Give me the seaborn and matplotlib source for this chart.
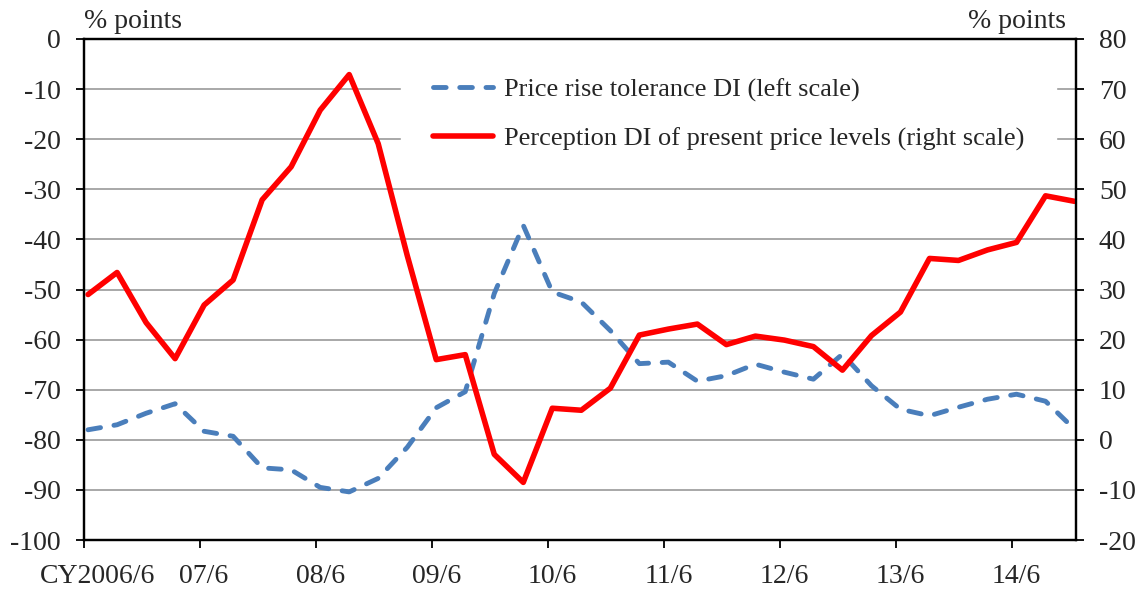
import pandas as pd
import seaborn as sns
import matplotlib.pyplot as plt
from matplotlib.transforms import ScaledTranslation

# Quarterly survey, CY2006/6 .. 2014/12
tick_labels = ["CY2006/6", "07/6", "08/6", "09/6", "10/6", "11/6", "12/6", "13/6", "14/6"]

# Price rise tolerance DI (left scale)
tolerance = [-78.0, -77.0, -74.7, -72.8, -78.3, -79.3, -85.6, -86.0, -89.5, -90.4,
             -87.7, -81.5, -73.6, -70.4, -50.8, -37.2, -50.5, -52.5, -58.2, -64.8,
             -64.5, -68.3, -67.2, -64.9, -66.5, -67.9, -62.9, -69.2, -73.9, -75.2,
             -73.5, -71.9, -70.9, -72.3, -77.9]

# Perception DI of present price levels (right scale)
perception = [29.0, 33.4, 23.4, 16.2, 26.9, 31.9, 47.9, 54.5, 65.8, 72.9,
              59.1, 36.8, 16.0, 17.0, -2.9, -8.5, 6.3, 5.9, 10.3, 20.9,
              22.1, 23.1, 19.0, 20.7, 19.9, 18.6, 13.9, 20.8, 25.5, 36.2,
              35.8, 37.9, 39.4, 48.7, 47.6]

df = pd.DataFrame({
    "q": range(len(tolerance)),
    "tolerance": tolerance,
    "perception": perception,
})

sns.set_style("white")
plt.rcParams["font.family"] = ["Liberation Serif", "DejaVu Serif"]
plt.rcParams["axes.unicode_minus"] = False
plt.rcParams["font.size"] = 20

fig = plt.figure(figsize=(11.39, 5.91), dpi=100)
ax = fig.add_axes([84 / 1139, 1 - 540 / 591, (1076 - 84) / 1139, (540 - 39) / 591])
ax2 = ax.twinx()

sns.lineplot(data=df, x="q", y="tolerance", ax=ax, color="#4a7ebb", lw=3.5,
             linestyle=(0, (2.6, 2.8)), dash_capstyle="round",
             label="Price rise tolerance DI (left scale)", legend=False)
sns.lineplot(data=df, x="q", y="perception", ax=ax2, color="#ff0000", lw=4,
             label="Perception DI of present price levels (right scale)", legend=False)

off = -0.14
ax.set_xlim(off, 34.05)
ax.set_ylim(-100, 0)
ax2.set_ylim(-20, 80)
ax.set_yticks(range(-100, 1, 10))
ax2.set_yticks(range(-20, 81, 10))
# tick marks at the start of June, labels centred on the June points
ax.set_xticks([off + 4 * k for k in range(len(tick_labels))])
ax.set_xticklabels([])
ax.set_xticks([4 * k for k in range(len(tick_labels))], minor=True)
ax.set_xticklabels(tick_labels, minor=True)

ax.yaxis.grid(True, color="#999999", lw=1.2)
ax.set_axisbelow(True)
ax.set_xlabel("")
ax.set_ylabel("")
ax2.set_ylabel("")

for a in (ax, ax2):
    for s in a.spines.values():
        s.set_color("black")
        s.set_linewidth(1.6)
ax.tick_params(axis="both", direction="out", length=5.5, width=1.3, color="black",
               labelsize=20, left=True, bottom=True)
ax.tick_params(axis="y", pad=11)
ax.tick_params(axis="x", which="minor", length=0, pad=17, labelsize=20, bottom=True)
ax2.tick_params(axis="y", direction="out", length=5.5, width=1.3, color="black",
                labelsize=20, right=True, pad=11)

first = ax.get_xticklabels(minor=True)[0]
first.set_transform(first.get_transform() + ScaledTranslation(0.095, 0, fig.dpi_scale_trans))

fig.text(84 / 1139, 1 - 22 / 591, "% points", fontsize=20, va="center", ha="left")
fig.text(1066 / 1139, 1 - 22 / 591, "% points", fontsize=20, va="center", ha="right")

h1, l1 = ax.get_legend_handles_labels()
h2, l2 = ax2.get_legend_handles_labels()
leg = ax2.legend(h1 + h2, l1 + l2, loc="upper left",
                 bbox_to_anchor=(401 / 1139, 1 - 46 / 591), bbox_transform=fig.transFigure,
                 frameon=True, facecolor="white", edgecolor="white", framealpha=1,
                 fancybox=False, fontsize=19, handlelength=2.27, handletextpad=0.42,
                 labelspacing=0.95, borderpad=1.2, borderaxespad=0)
leg.set_zorder(2)

fig.savefig("out.png", dpi=100)
